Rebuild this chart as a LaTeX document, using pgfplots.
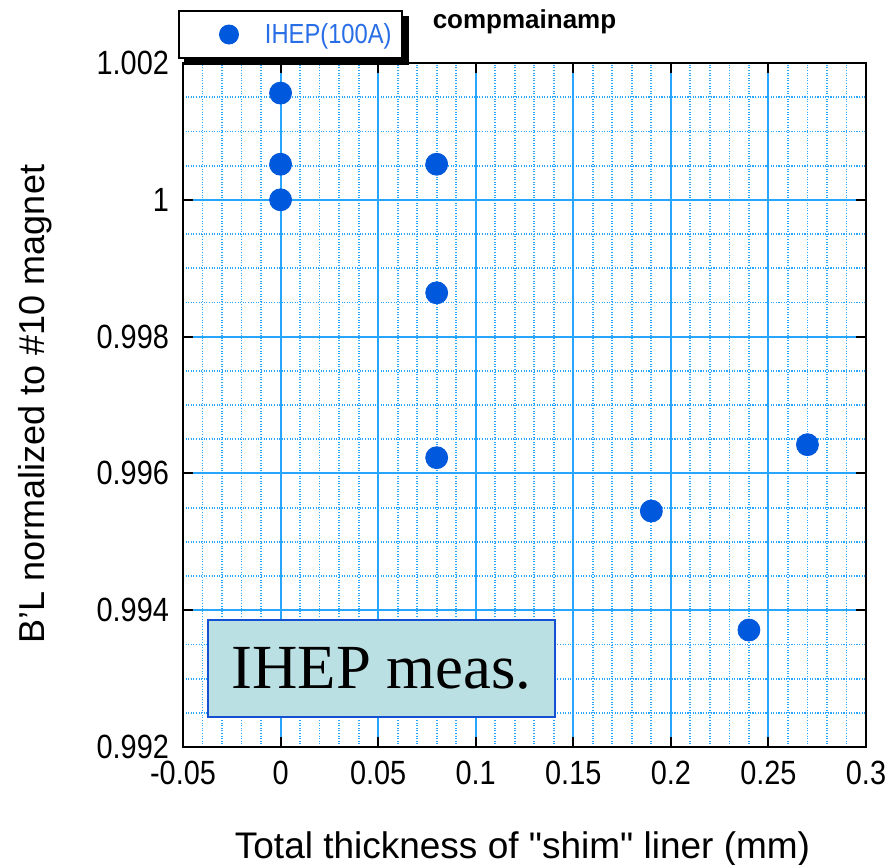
\documentclass[border=0pt]{standalone}
\usepackage{pgfplots}
\pgfplotsset{compat=1.18}
\usepackage{pgfplotstable}
\usepackage{fontspec}
\setmainfont{Liberation Sans}
\newfontfamily\narrowfont{Liberation Sans}[FakeStretch=0.86]
\newfontfamily\seriffont{Liberation Serif}
\pgfdeclarelayer{background}
\pgfsetlayers{background,main}

\definecolor{markblue}{RGB}{0,88,220}
\definecolor{gridblue}{RGB}{40,165,255}
\definecolor{legblue}{RGB}{40,110,230}
\definecolor{boxfill}{RGB}{186,224,228}
\definecolor{boxedge}{RGB}{20,80,210}

% B'L ratio against liner thickness
\pgfplotstableread{
x     y
0     1.00156
0     1.00052
0     1.00000
0.08  1.00052
0.08  0.99864
0.08  0.99623
0.19  0.99545
0.24  0.99371
0.27  0.99642
}\shimdata

\begin{document}
\begin{tikzpicture}
\begin{axis}[
  scale only axis, width=341.5pt, height=342pt,
  xmin=-0.05, xmax=0.3, ymin=0.992, ymax=1.002,
  xtick={-0.05,0,0.05,0.1,0.15,0.2,0.25,0.3},
  xticklabels={-0.05,0,0.05,0.1,0.15,0.2,0.25,0.3},
  ytick={0.992,0.994,0.996,0.998,1,1.002},
  yticklabels={0.992,0.994,0.996,0.998,1,1.002},
  scaled ticks=false,
  minor x tick num=4, minor y tick num=3,
  grid=both,
  major grid style={solid, gridblue, line width=1pt},
  minor grid style={gridblue, line width=0.9pt, dash pattern=on 0.55pt off 0.75pt},
  axis line style={black, line width=1pt},
  tick style={black, line width=1pt},
  major tick length=5pt, minor tick length=0pt,
  tick align=inside,
  ticklabel style={font=\narrowfont\fontsize{16.8}{16.8}\selectfont},
  xticklabel style={yshift=-3.5pt},
  yticklabel style={xshift=-3.5pt},
  every axis title shift=0pt,
  title={\bfseries compmainamp},
  title style={at={([yshift=20.5pt]axis description cs:0.5,1)}, anchor=center,
    font=\fontsize{13}{13}\selectfont},
  xlabel={Total thickness of \textquotedbl shim\textquotedbl{} liner (mm)},
  xlabel style={at={([xshift=-1pt,yshift=-55.5pt]axis description cs:0.5,0)}, anchor=base,
    font=\fontsize{18.5}{18.5}\selectfont},
  ylabel={B\textquoteright L normalized to \#10 magnet},
  ylabel style={at={([xshift=-69pt,yshift=0.5pt]axis description cs:0,0.5)}, anchor=base,
    font=\fontsize{18}{18}\selectfont},
  legend style={at={([xshift=-2.5pt,yshift=26.5pt]axis description cs:0,1)}, anchor=north west,
    draw=black, line width=1pt, fill=white, text=legblue, name=leg,
    font=\narrowfont\fontsize{13.8}{13.8}\selectfont, inner xsep=3pt, inner ysep=4pt},
  legend image code/.code={\path[draw=none] (0,0) -- (38pt,0);
    \fill[markblue, draw=none] (22pt,0) circle (5pt);},
]
\addplot[only marks, mark=*, mark size=5.5pt, mark options={fill=markblue, draw=markblue}]
  table[x=x, y=y]{\shimdata};
\addlegendentry{IHEP(100A)}

\node[fill=boxfill, draw=boxedge, line width=1pt, minimum width=173.5pt, minimum height=48.5pt,
  inner sep=0pt, font=\seriffont\fontsize{31.4}{31.4}\selectfont]
  at (rel axis cs:0.2906,0.115) {IHEP meas.};
\end{axis}
% drop shadow behind the legend frame
\begin{pgfonlayer}{background}
  \fill[black] ([shift={(3pt,-3pt)}]leg.south west) rectangle ([shift={(3pt,-3pt)}]leg.north east);
\end{pgfonlayer}
\pgfresetboundingbox
\path ([shift={(-91.5pt,-58.5pt)}]current axis.south west)
  rectangle ([shift={(14pt,31.5pt)}]current axis.north east);
\end{tikzpicture}
\end{document}
